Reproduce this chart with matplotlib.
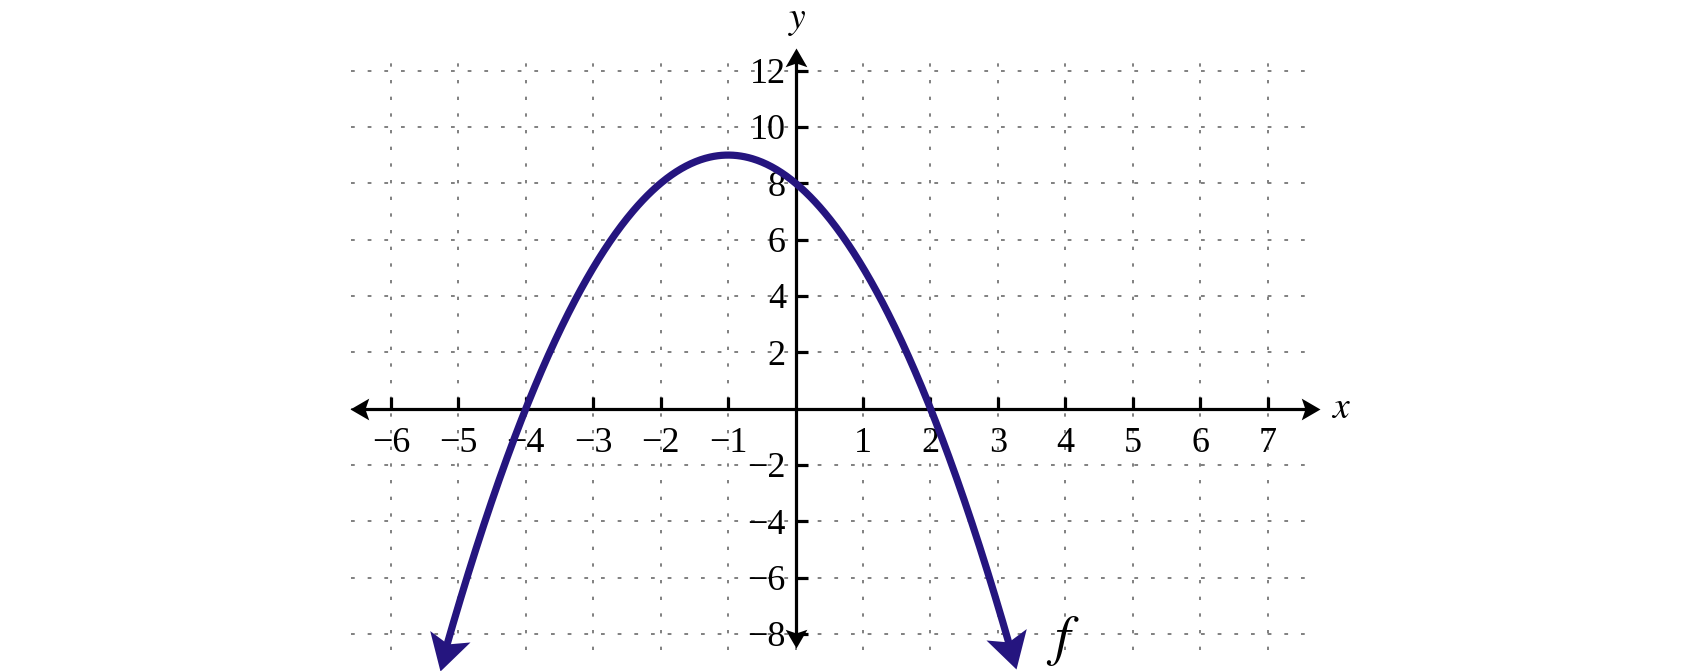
import numpy as np
import matplotlib
matplotlib.use("Agg")
import matplotlib.pyplot as plt
from matplotlib.path import Path
from matplotlib.markers import MarkerStyle
from matplotlib.transforms import Affine2D

# f(x) = -x^2 - 2x + 8  (roots -4 and 2, vertex at (-1, 9))
f_coeffs = [-1, -2, 8]
f_domain = [-5.28, 3.27]

x_ticks = [-6, -5, -4, -3, -2, -1, 1, 2, 3, 4, 5, 6, 7]
y_ticks = [-8, -6, -4, -2, 2, 4, 6, 8, 10, 12]
x_grid = list(range(-6, 8))
y_grid = list(range(-8, 13, 2))

curve_color = "#25157f"
grid_color = "#808080"

plt.rcParams["font.family"] = ["Liberation Serif", "DejaVu Serif"]
plt.rcParams["mathtext.fontset"] = "stix"
plt.rcParams["lines.scale_dashes"] = False

fig = plt.figure(figsize=(17, 6.71), dpi=100)
ax = fig.add_axes([0, 0, 1, 1])
ax.set_xlim(-11.797, 13.410)
ax.set_ylim(-9.315, 14.505)
ax.patch.set_alpha(0)


def stealth(notch, half_w):
    verts = [(0, 0), (-1, half_w), (-notch, 0), (-1, -half_w), (0, 0)]
    codes = [Path.MOVETO, Path.LINETO, Path.LINETO, Path.LINETO, Path.CLOSEPOLY]
    return Path(verts, codes)


def arrow_head(x, y, angle, size, color, notch, half_w):
    m = MarkerStyle(stealth(notch, half_w), transform=Affine2D().rotate_deg(angle))
    ax.plot([x], [y], linestyle="none", marker=m, markersize=size,
            color=color, markeredgewidth=0, zorder=6, clip_on=False)


# dotted grid
ax.hlines(y_grid, -6.59, 7.55, colors=grid_color, linewidth=1.4,
          linestyles=(0, (2.7, 9.3)), zorder=1)
ax.vlines(x_grid, -8.57, 12.27, colors=grid_color, linewidth=1.4,
          linestyles=(0, (2.4, 9.6)), zorder=1)

# axes through the origin
x_ends = [-6.6, 7.77]
y_ends = [-8.5, 12.8]
for side in ["top", "right"]:
    ax.spines[side].set_visible(False)
ax.spines["left"].set_position(("data", 0))
ax.spines["bottom"].set_position(("data", 0))
ax.spines["bottom"].set_bounds(x_ends[0] + 0.2, x_ends[1] - 0.2)
ax.spines["left"].set_bounds(y_ends[0] + 0.45, y_ends[1] - 0.45)
for side in ["left", "bottom"]:
    ax.spines[side].set_linewidth(2.3)
    ax.spines[side].set_capstyle("butt")

ax.set_xticks(x_ticks, labels=[str(v).replace("-", "\u2212") for v in x_ticks])
ax.set_yticks(y_ticks, labels=[str(v).replace("-", "\u2212") for v in y_ticks])
ax.tick_params(direction="in", length=8.3, width=2.3, labelsize=26)
ax.tick_params(axis="x", pad=13)
ax.tick_params(axis="y", pad=7)

arrow_head(x_ends[0], 0, 180, 27, "black", 0.8, 0.58)
arrow_head(x_ends[1], 0, 0, 27, "black", 0.8, 0.58)
arrow_head(0, y_ends[0], -90, 27, "black", 0.8, 0.58)
arrow_head(0, y_ends[1], 90, 27, "black", 0.8, 0.58)

# the curve, trimmed a little under each arrow head
xs = np.linspace(f_domain[0], f_domain[1], 600)
ys = np.polyval(f_coeffs, xs)
pix = ax.transData.transform(np.column_stack([xs, ys]))
d_start = np.hypot(*(pix - pix[0]).T)
d_end = np.hypot(*(pix - pix[-1]).T)
keep = (d_start > 18) & (d_end > 18)
ax.plot(xs[keep], ys[keep], color=curve_color, linewidth=5.2,
        solid_capstyle="butt", zorder=5)

for tip, back in [(0, 8), (-1, -9)]:
    dx, dy = pix[tip] - pix[back]
    angle = np.degrees(np.arctan2(dy, dx))
    arrow_head(xs[tip], ys[tip], angle, 52, curve_color, 0.78, 0.58)

ax.text(0.02, 13.51, "$y$", fontsize=27, ha="center", va="baseline")
ax.text(8.09, -0.33, "$x$", fontsize=27, ha="center", va="baseline")
ax.text(3.96, -8.71, "$f$", fontsize=40, ha="center", va="baseline")

fig.savefig("out.png", dpi=100, facecolor="white")
